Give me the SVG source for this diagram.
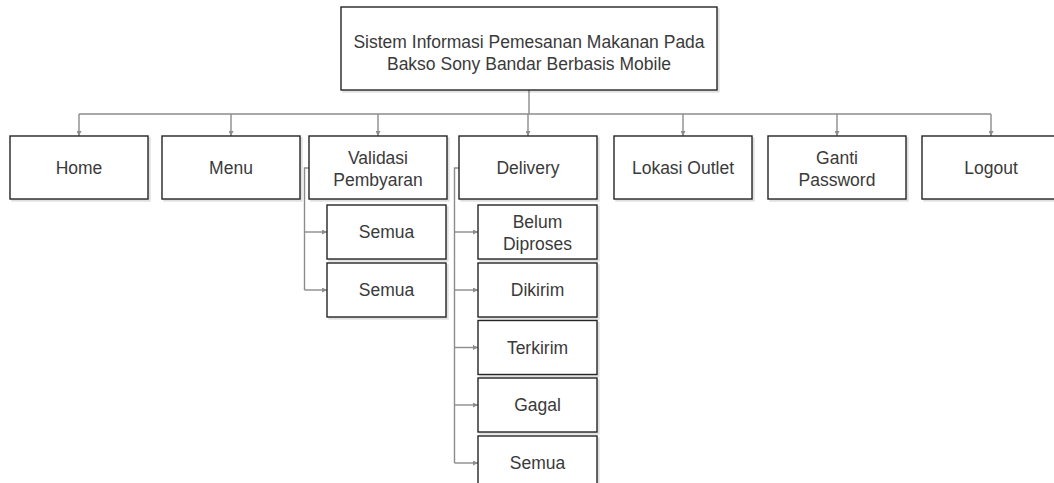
<svg xmlns="http://www.w3.org/2000/svg" width="1054" height="483" viewBox="0 0 1054 483">
<defs>
<marker id="ah" viewBox="0 0 6 6" refX="6" refY="3" markerWidth="5" markerHeight="5" markerUnits="userSpaceOnUse" orient="auto">
<path d="M0,0 L6,3 L0,6 z" fill="#8c8c8c"/>
</marker>
<filter id="sh" x="-5%" y="-5%" width="115%" height="115%">
<feOffset dx="2" dy="2" in="SourceAlpha" result="o"/>
<feColorMatrix in="o" type="matrix" values="0 0 0 0 0  0 0 0 0 0  0 0 0 0 0  0 0 0 0.12 0" result="c"/>
<feMerge><feMergeNode in="c"/><feMergeNode in="SourceGraphic"/></feMerge>
</filter>
</defs>
<style>
.box{fill:#fff;stroke:#262626;stroke-width:1.4;filter:url(#sh)}
.t{font-family:"Liberation Sans",Arial,sans-serif;font-size:17.5px;fill:#3a3a3a;text-anchor:middle}
.c{fill:none;stroke:#8c8c8c;stroke-width:1.4}
.a{marker-end:url(#ah)}
</style>
<rect width="1054" height="483" fill="#fff"/>
<g id="connectors">
<path class="c" d="M529,90 V114 M79,114 H991"/>
<path class="c a" d="M79,114 V136"/>
<path class="c a" d="M231,114 V136"/>
<path class="c a" d="M378,114 V136"/>
<path class="c a" d="M528,114 V136"/>
<path class="c a" d="M683,114 V136"/>
<path class="c a" d="M837,114 V136"/>
<path class="c a" d="M991,114 V136"/>
<path class="c" d="M309,168 H304.5 V290"/>
<path class="c a" d="M304.5,232 H327"/>
<path class="c a" d="M304.5,290 H327"/>
<path class="c" d="M459,168 H454.5 V463"/>
<path class="c a" d="M454.5,232 H478"/>
<path class="c a" d="M454.5,290 H478"/>
<path class="c a" d="M454.5,347.5 H478"/>
<path class="c a" d="M454.5,405 H478"/>
<path class="c a" d="M454.5,463 H478"/>
</g>
<g id="root"><rect class="box" x="341" y="7" width="376" height="83"/><text class="t" x="529" y="47.5">Sistem Informasi Pemesanan Makanan Pada</text><text class="t" x="529" y="69.5">Bakso Sony Bandar Berbasis Mobile</text></g>
<g id="home"><rect class="box" x="10" y="136" width="138" height="63"/><text class="t" x="79" y="174">Home</text></g>
<g id="menu"><rect class="box" x="162" y="136" width="138" height="63"/><text class="t" x="231" y="174">Menu</text></g>
<g id="validasi"><rect class="box" x="309" y="136" width="138" height="63"/><text class="t" x="378" y="164">Validasi</text><text class="t" x="378" y="186">Pembyaran</text></g>
<g id="delivery"><rect class="box" x="459" y="136" width="138" height="63"/><text class="t" x="528" y="174">Delivery</text></g>
<g id="lokasi"><rect class="box" x="614" y="136" width="138" height="63"/><text class="t" x="683" y="174">Lokasi Outlet</text></g>
<g id="ganti"><rect class="box" x="768" y="136" width="138" height="63"/><text class="t" x="837" y="164">Ganti</text><text class="t" x="837" y="186">Password</text></g>
<g id="logout"><rect class="box" x="922" y="136" width="138" height="63"/><text class="t" x="991" y="174">Logout</text></g>
<g id="v-semua1"><rect class="box" x="327" y="205" width="119" height="54"/><text class="t" x="386.5" y="238">Semua</text></g>
<g id="v-semua2"><rect class="box" x="327" y="263" width="119" height="54"/><text class="t" x="386.5" y="296">Semua</text></g>
<g id="d-belum"><rect class="box" x="478" y="205" width="119" height="54"/><text class="t" x="537.5" y="228">Belum</text><text class="t" x="537.5" y="250">Diproses</text></g>
<g id="d-dikirim"><rect class="box" x="478" y="263" width="119" height="54"/><text class="t" x="537.5" y="296">Dikirim</text></g>
<g id="d-terkirim"><rect class="box" x="478" y="320.5" width="119" height="54"/><text class="t" x="537.5" y="353.5">Terkirim</text></g>
<g id="d-gagal"><rect class="box" x="478" y="378" width="119" height="54"/><text class="t" x="537.5" y="411">Gagal</text></g>
<g id="d-semua"><rect class="box" x="478" y="436" width="119" height="54"/><text class="t" x="537.5" y="469">Semua</text></g>
</svg>
